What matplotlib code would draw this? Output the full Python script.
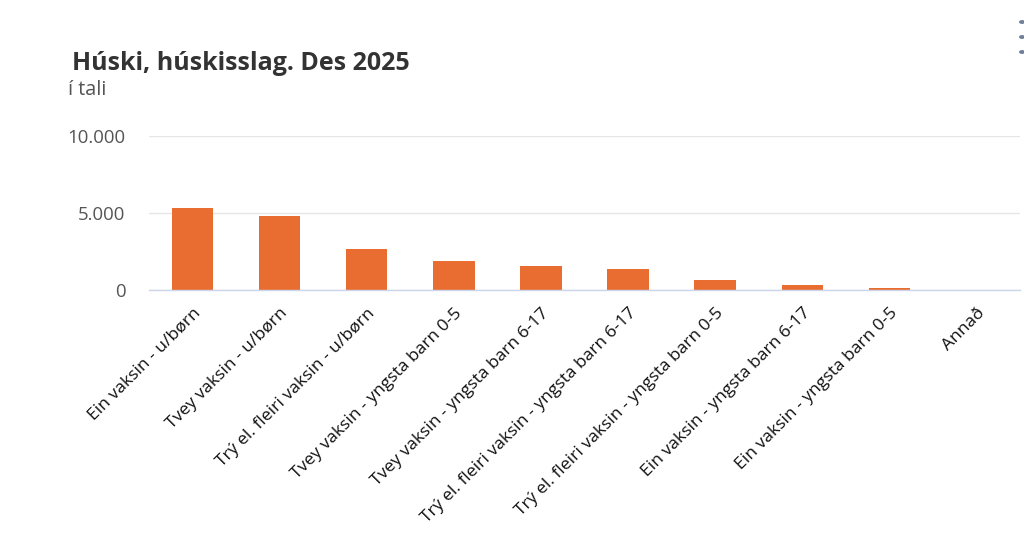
import matplotlib
matplotlib.use("Agg")
import matplotlib.pyplot as plt
from matplotlib.ticker import FuncFormatter, FixedLocator

categories = [
    "Ein vaksin - u/børn",
    "Tvey vaksin - u/børn",
    "Trý el. fleiri vaksin - u/børn",
    "Tvey vaksin - yngsta barn 0-5",
    "Tvey vaksin - yngsta barn 6-17",
    "Trý el. fleiri vaksin - yngsta barn 6-17",
    "Trý el. fleiri vaksin - yngsta barn 0-5",
    "Ein vaksin - yngsta barn 6-17",
    "Ein vaksin - yngsta barn 0-5",
    "Annað",
]
values = [5350, 4830, 2650, 1880, 1580, 1365, 630, 330, 135, 10]
yticks = [0, 5000, 10000]

title = "Húski, húskisslag. Des 2025"
subtitle = "í tali"

plt.rcParams['font.family'] = ['Open Sans', 'DejaVu Sans']

fig = plt.figure(figsize=(10.24, 5.59), dpi=100)
ax = fig.add_axes([149/1024, 1-290/559, (1020-149)/1024, (290-136)/559])

x = list(range(len(categories)))
ax.bar(x, values, width=0.475, color="#E96C30", zorder=3)

ax.set_xlim(-0.5, len(categories)-0.5)
ax.set_ylim(0, 10000)
ax.yaxis.set_major_locator(FixedLocator(yticks))
ax.yaxis.set_major_formatter(FuncFormatter(lambda v, p: f"{int(v):,}".replace(",", ".")))
ax.grid(axis='y', color="#e6e6e6", linewidth=1, zorder=0)
ax.set_axisbelow(True)
for s in ['top', 'right', 'left']:
    ax.spines[s].set_visible(False)
ax.spines['bottom'].set_color("#ccd6eb")
ax.spines['bottom'].set_linewidth(1)
ax.spines['bottom'].set_zorder(4)
ax.tick_params(axis='y', length=0, pad=17, labelsize=13.4, labelcolor="#555555")
ax.tick_params(axis='x', length=0, pad=11, labelsize=12.6, labelcolor="#111111")
ax.set_xticks(x)
ax.set_xticklabels(categories, rotation=45, ha='right', rotation_mode='anchor')

fig.text(72/1024, 1-63/559, title, fontsize=18, fontweight='bold', color="#333333", va='center', ha='left')
fig.text(68/1024, 1-90/559, subtitle, fontsize=14.3, color="#555555", va='center', ha='left')

for yy in [22, 37, 52]:
    fig.patches.append(matplotlib.patches.Circle((1022/1024, 1-yy/559), 0.0022, transform=fig.transFigure, color="#6d7f99", figure=fig))

fig.savefig("out.png", dpi=100)
